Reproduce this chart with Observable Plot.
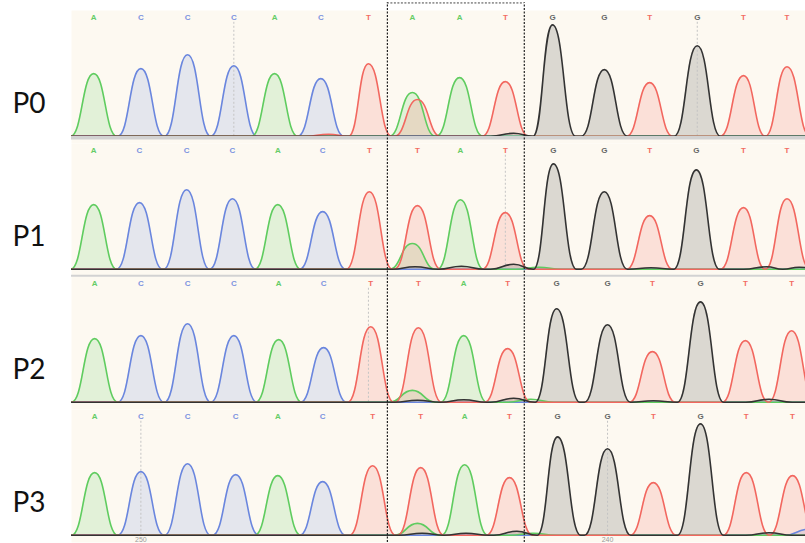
<!DOCTYPE html>
<html><head><meta charset="utf-8">
<script src="https://cdn.jsdelivr.net/npm/d3@7"></script>
<script src="https://cdn.jsdelivr.net/npm/@observablehq/plot@0.6"></script>
<style>html,body{margin:0;padding:0;background:#fff;} #chart{width:805px;height:543px;overflow:hidden;}</style>
</head><body><div id="chart"></div>
<script>
// ---- data (positions in base-call units, intensities in arbitrary units) ----
const rowNames = ["P0", "P1", "P2", "P3"];
const baseNames = ["A", "C", "G", "T"];
const channelOrder = ["C", "A", "T", "G"];

const calledP0 = ["A","C","C","C","A","C","T","A","A","T","G","G","T","G","T","T"];
const calledP1 = ["A","C","C","C","A","C","T","T","A","T","G","G","T","G","T","T"];
const calledP2 = ["A","C","C","C","A","C","T","T","A","T","G","G","T","G","T","T"];
const calledP3 = ["A","C","C","C","A","C","T","T","A","T","G","G","T","G","T","T"];

const posP0 = [0.00,1.02,2.03,3.03,3.91,4.91,5.94,6.89,7.91,8.90,9.92,11.04,12.02,13.05,14.05,14.99];
const posP1 = [0.00,0.99,2.01,3.00,3.98,4.95,5.96,7.00,7.93,8.90,9.94,11.04,12.02,13.03,14.05,14.99];
const posP2 = [0.02,1.02,2.03,3.03,4.00,4.97,5.99,7.02,8.00,8.95,10.01,11.11,12.08,13.12,14.09,15.09];
const posP3 = [0.02,1.02,2.03,3.07,3.98,4.95,6.03,7.07,8.02,8.99,10.03,11.11,12.10,13.12,14.11,15.11];

const heightP0 = [630,680,820,710,630,580,730,440,590,550,1120,670,540,910,610,700];
const heightP1 = [650,670,800,710,650,580,780,640,700,570,1060,780,540,1000,620,710];
const heightP2 = [640,670,790,670,630,550,760,750,670,540,940,780,510,1010,620,720];
const heightP3 = [630,640,720,610,600,540,700,680,710,580,990,870,530,1120,630,600];

// secondary (uncalled) peaks: [base, position, intensity]
const minorP0 = [["T",7.00,370],["T",5.08,20],["G",9.08,30]];
const minorP1 = [["A",6.89,260],["G",6.95,25],["G",7.95,30],["G",9.08,50],["A",9.62,20],["G",12.05,15],["G",14.55,25],["G",15.25,20]];
const minorP2 = [["A",6.89,120],["G",7.00,20],["G",8.00,25],["G",9.08,40],["A",9.45,30],["G",12.10,15],["G",14.60,30]];
const minorP3 = [["A",7.00,120],["G",7.10,20],["G",8.05,20],["G",9.15,40],["A",9.50,20],["G",14.60,25],["C",15.45,60]];

const cursorRows = ["P0","P0","P1","P2","P3","P3"];
const cursorPos = [3.03,13.05,8.90,5.94,1.02,11.11];
const tickRows = ["P3","P3"];
const tickPos = [1.02,11.11];
const tickText = ["250","240"];
const boxEdges = [6.35, 9.31];

const traceColors = ["#5fcc5f", "#6a86de", "#333333", "#f2675f"];
const labelColors = ["#66cc66", "#7b93e0", "#666666", "#f26b62"];

// ---- build tables ----
const rowTables = [
  {row: "P0", called: calledP0, pos: posP0, ht: heightP0, minor: minorP0},
  {row: "P1", called: calledP1, pos: posP1, ht: heightP1, minor: minorP1},
  {row: "P2", called: calledP2, pos: posP2, ht: heightP2, minor: minorP2},
  {row: "P3", called: calledP3, pos: posP3, ht: heightP3, minor: minorP3}
];
const calledPeaks = rowTables.flatMap(r => r.called.map((b, i) => ({row: r.row, base: b, pos: r.pos[i], h: r.ht[i]})));
const minorPeaks = rowTables.flatMap(r => r.minor.map(([b, p, h]) => ({row: r.row, base: b, pos: p, h})));
const allPeaks = calledPeaks.concat(minorPeaks);

const xMin = -0.48, xMax = 15.39, HW = 0.5;
const yMin = -72.5, yMax = 1265;

const trace = [];
for (const row of rowNames) {
  for (const base of channelOrder) {
    const ps = allPeaks.filter(p => p.row === row && p.base === base).sort((a, b) => a.pos - b.pos);
    const pts = [{x: xMin - 1, y: 0}];
    for (const p of ps) {
      const left = p.pos - HW;
      const last = pts[pts.length - 1];
      if (last.x > left) last.x = (pts[pts.length - 2].x + p.pos) / 2;
      else pts.push({x: left, y: 0});
      pts.push({x: p.pos, y: p.h});
      pts.push({x: p.pos + HW, y: 0});
    }
    pts.push({x: xMax + 1, y: 0});
    for (const pt of pts) trace.push({row, base, key: row + base, x: pt.x, y: pt.y});
  }
}

const cursors = cursorRows.map((r, i) => ({row: r, pos: cursorPos[i]}));
const ticks = tickRows.map((r, i) => ({row: r, pos: tickPos[i], label: tickText[i]}));
const boxRules = rowNames.flatMap(r => boxEdges.map(x => ({row: r, x, top: r === "P0" ? yMax + 78 : yMax})));
const rowLabels = rowNames.map(r => ({row: r}));

const chart = Plot.plot({
  width: 805, height: 543,
  marginTop: 8, marginBottom: 0, marginLeft: 71, marginRight: 0,
  style: {background: "transparent", fontFamily: "Liberation Sans, sans-serif", overflow: "visible"},
  x: {domain: [xMin, xMax], axis: null},
  y: {domain: [yMin, yMax], axis: null},
  fy: {domain: rowNames, axis: null, padding: 0},
  color: {domain: baseNames, range: traceColors},
  marks: [
    Plot.frame({fill: "#fdf9f1", stroke: "none"}),
    Plot.areaY(trace, {x: "x", y1: 0, y2: "y", fy: "row", z: "key", fill: "base", fillOpacity: 0.17, curve: "bump-x", clip: true}),
    Plot.ruleX(cursors, {x: "pos", fy: "row", y1: 0, y2: 1150, stroke: "#c4c4c4", strokeDasharray: "2,2", strokeWidth: 1}),
    Plot.lineY(trace, {x: "x", y: "y", fy: "row", z: "key", stroke: "base", strokeWidth: 1.6, curve: "bump-x", clip: true}),
    Plot.ruleY(rowLabels.filter(d => d.row === "P0"), {fy: "row", y: -14, stroke: "#d2d2d2", strokeWidth: 3.4}),
    Plot.ruleY(rowLabels.filter(d => d.row === "P1"), {fy: "row", y: -64, stroke: "#d2d2d2", strokeWidth: 2}),
    ...baseNames.map((b, i) => Plot.text(calledPeaks.filter(d => d.base === b), {x: "pos", y: 1200, fy: "row", text: "base", fill: labelColors[i], fontSize: 8, fontWeight: "bold"})),
    Plot.text(ticks, {x: "pos", y: -48, fy: "row", text: "label", fill: "#999", fontSize: 7}),
    Plot.ruleX(boxRules, {x: "x", fy: "row", y1: yMin, y2: "top", stroke: "#222", strokeWidth: 1.2, strokeDasharray: "2,1.5"}),
    Plot.ruleY(rowLabels.filter(d => d.row === "P0"), {fy: "row", y: yMax + 76, x1: boxEdges[0], x2: boxEdges[1], stroke: "#444", strokeWidth: 1, strokeDasharray: "2,1.5"}),
    Plot.text(rowLabels, {fy: "row", text: "row", frameAnchor: "left", y: 320, dx: -59, textAnchor: "start", fontSize: 28, fontFamily: "Lato", fill: "#111"})
  ]
});
document.getElementById("chart").appendChild(chart);
</script>
</body></html>
